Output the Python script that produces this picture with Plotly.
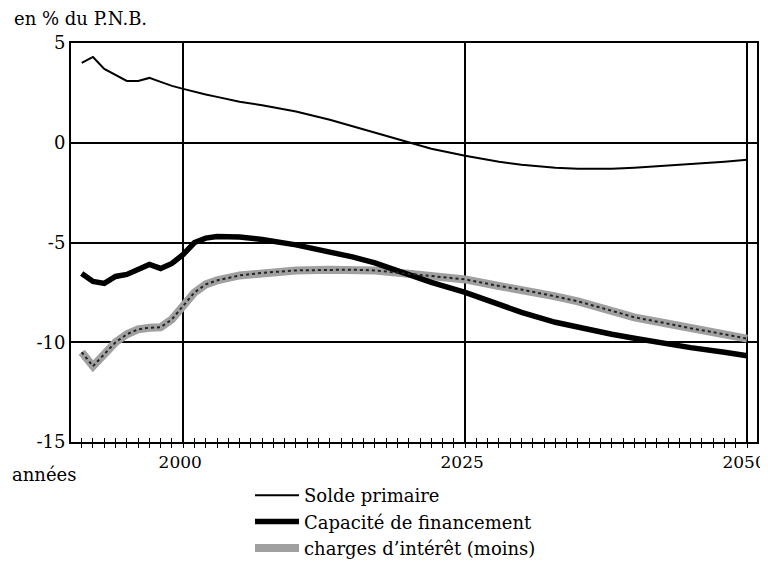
import plotly.graph_objects as go

years = [1991, 1992, 1993, 1994, 1995, 1996, 1997, 1998, 1999, 2000, 2001, 2002, 2003,
         2005, 2007, 2010, 2013, 2015, 2017, 2020, 2022, 2025, 2028, 2030, 2033, 2035,
         2038, 2040, 2043, 2045, 2048, 2050]

solde_primaire = [4.0, 4.3, 3.7, 3.4, 3.1, 3.1, 3.25, 3.05, 2.85, 2.7, 2.55, 2.42, 2.3,
                  2.05, 1.88, 1.57, 1.15, 0.83, 0.5, 0.0, -0.3, -0.65, -0.95, -1.1, -1.25, -1.3,
                  -1.3, -1.25, -1.15, -1.05, -0.95, -0.85]

capacite = [-6.55, -6.95, -7.05, -6.7, -6.6, -6.35, -6.1, -6.3, -6.05, -5.6, -5.0, -4.78, -4.7,
            -4.72, -4.85, -5.12, -5.45, -5.72, -6.02, -6.6, -7.0, -7.5, -8.1, -8.5, -9.0, -9.25,
            -9.6, -9.8, -10.12, -10.27, -10.5, -10.68]

charges = [-10.5, -11.2, -10.6, -10.0, -9.6, -9.35, -9.27, -9.25, -8.85, -8.2, -7.5, -7.1, -6.9,
           -6.65, -6.52, -6.4, -6.36, -6.36, -6.4, -6.57, -6.68, -6.85, -7.18, -7.36, -7.7, -7.95,
           -8.42, -8.75, -9.07, -9.3, -9.6, -9.82]

series_names = ["Solde primaire", "Capacité de financement", "charges d\u2019intérêt (moins)"]
x_tick_values = [2000, 2025, 2050]
x_tick_labels = ["2000", "2025", "2050"]
y_tick_values = [5, 0, -5, -10, -15]
y_tick_labels = ["5", "0", "-5", "-10", "-15"]
x_range = [1990.05, 2050.88]
y_range = [-15, 5]

FONT = "DejaVu Serif"
# page body has an 8px margin: the figure is drawn 8px right/down in the window
OFF = 8
W, H = 768 - OFF, 568 - OFF
L, R, T, B = 71 - OFF, 11, 43 - OFF, 126
PW, PH = W - L - R, H - T - B
PL, PB = 71, 442  # plot left / bottom in window pixels


def px(xs):
    return (xs - PL) / PW


def py(ys):
    return (PB - ys) / PH


fig = go.Figure()

# textured interest-charges band (grey base + black dotted overlay)
fig.add_trace(go.Scatter(
    x=years, y=charges, mode="lines", name=series_names[2],
    line=dict(color="#a0a0a0", width=8), legendrank=3, legendgroup="c",
))
fig.add_trace(go.Scatter(
    x=years, y=charges, mode="lines", showlegend=False, xaxis="x2",
    line=dict(color="#222222", width=2, dash="dot"), legendgroup="c",
))
fig.add_trace(go.Scatter(
    x=years, y=solde_primaire, mode="lines", name=series_names[0],
    line=dict(color="black", width=2), legendrank=1, legendgroup="a",
))
fig.add_trace(go.Scatter(
    x=years, y=capacite, mode="lines", name=series_names[1],
    line=dict(color="black", width=5.5), legendrank=2, legendgroup="b",
))

fig.update_layout(
    width=W, height=H,
    margin=dict(l=L, r=R, t=T, b=B, autoexpand=False),
    paper_bgcolor="white", plot_bgcolor="white",
    font=dict(family=FONT, size=18, color="black"),
    xaxis=dict(
        range=x_range, tickmode="array", tickvals=x_tick_values, ticktext=x_tick_labels,
        ticks="outside", ticklen=4, tickwidth=1.2, tickcolor="black",
        minor=dict(dtick=1, tick0=1990, ticks="outside", ticklen=4, tickwidth=1.2,
                   tickcolor="black", showgrid=False),
        showgrid=True, gridcolor="black", gridwidth=1.5,
        showline=True, linecolor="black", linewidth=2, mirror=True,
        zeroline=False, tickfont=dict(family=FONT, size=17), ticklabeloverflow="allow",
        ticklabelshift=-3,
    ),
    xaxis2=dict(
        range=x_range, overlaying="x", anchor="y", side="bottom",
        tickmode="linear", dtick=1, tick0=1990, ticks="inside", ticklen=4, tickwidth=1.2,
        tickcolor="black", showticklabels=False, showgrid=False, showline=False, zeroline=False,
    ),
    yaxis=dict(
        range=y_range, tickmode="array", tickvals=y_tick_values, ticktext=y_tick_labels,
        ticks="", showgrid=True, gridcolor="black", gridwidth=1.5,
        showline=True, linecolor="black", linewidth=2, mirror=True,
        zeroline=False, tickfont=dict(family=FONT, size=18), ticklabelstandoff=0,
    ),
    legend=dict(
        x=px(250), xanchor="left", y=py(477), yanchor="top",
        bgcolor="rgba(0,0,0,0)", font=dict(family=FONT, size=18),
        tracegroupgap=7, traceorder="normal", itemwidth=44,
    ),
    showlegend=True,
)

fig.add_annotation(
    text="en % du P.N.B.", xref="paper", yref="paper",
    x=px(12), xanchor="left", y=py(18), yanchor="middle",
    showarrow=False, font=dict(family=FONT, size=18),
)
fig.add_annotation(
    text="années", xref="paper", yref="paper",
    x=px(10), xanchor="left", y=py(474), yanchor="middle",
    showarrow=False, font=dict(family=FONT, size=18),
)

fig.write_html("out.html")
